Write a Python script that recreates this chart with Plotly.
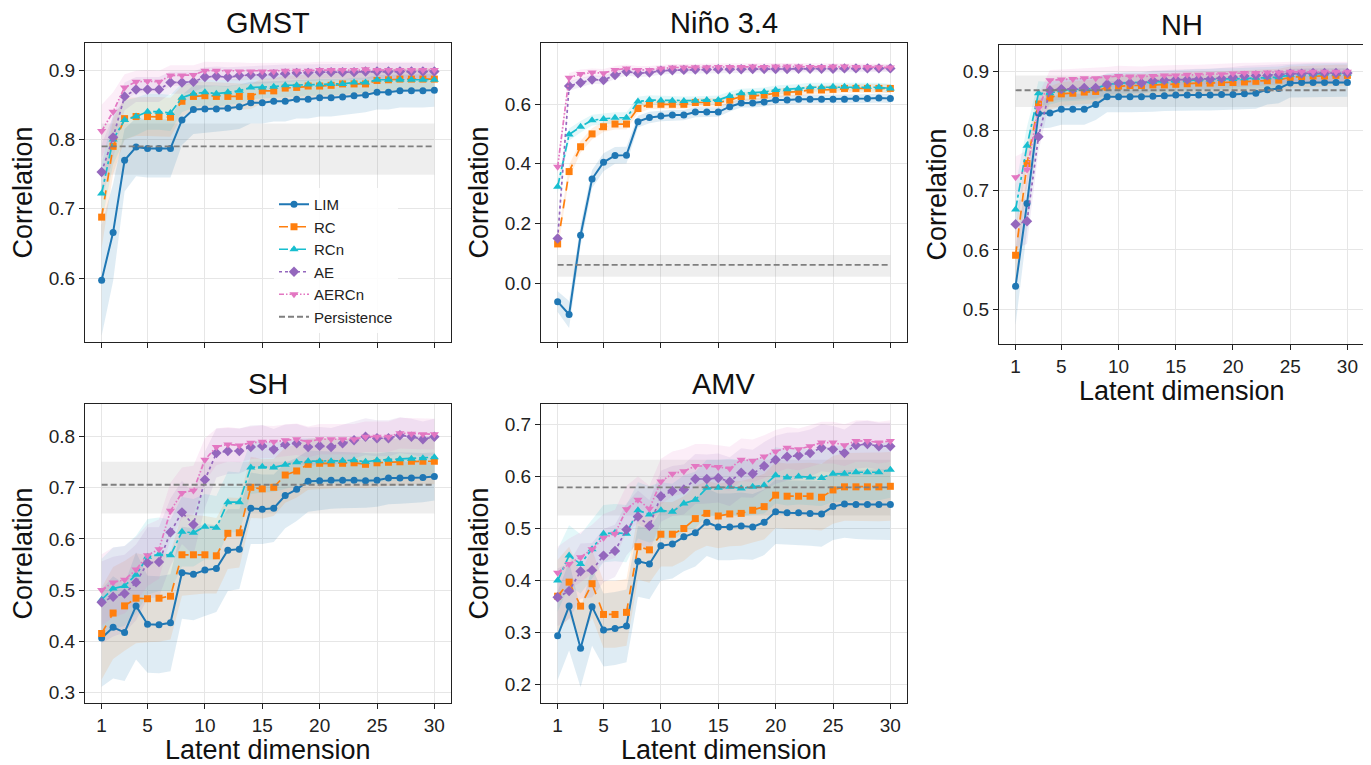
import plotly.graph_objects as go

# the page body keeps an 8px margin, so the figure is shrunk by that amount
W, H = 1371, 765
OFF = 8
FW, FH = W - OFF, H - OFF
dims = list(range(1, 31))
x_ticks = [1, 5, 10, 15, 20, 25, 30]
methods = ["LIM", "RC", "RCn", "AE", "AERCn"]

# ---- GMST ----
gmst_lim = [0.597, 0.666, 0.770, 0.789, 0.787, 0.787, 0.787, 0.828, 0.843, 0.844, 0.844, 0.845, 0.847, 0.853, 0.853,
            0.855, 0.855, 0.858, 0.858, 0.860, 0.860, 0.861, 0.863, 0.864, 0.868, 0.868, 0.870, 0.870, 0.870, 0.871]
gmst_rc = [0.688, 0.790, 0.830, 0.833, 0.833, 0.833, 0.832, 0.855, 0.862, 0.863, 0.862, 0.862, 0.862, 0.862, 0.870,
           0.870, 0.874, 0.875, 0.877, 0.877, 0.878, 0.880, 0.880, 0.880, 0.885, 0.886, 0.887, 0.887, 0.887, 0.887]
gmst_rcn = [0.722, 0.800, 0.828, 0.833, 0.840, 0.840, 0.838, 0.860, 0.866, 0.868, 0.866, 0.868, 0.870, 0.875, 0.875,
            0.876, 0.878, 0.878, 0.879, 0.879, 0.880, 0.880, 0.882, 0.882, 0.886, 0.886, 0.886, 0.886, 0.886, 0.886]
gmst_ae = [0.753, 0.803, 0.862, 0.872, 0.872, 0.872, 0.882, 0.882, 0.883, 0.890, 0.891, 0.890, 0.892, 0.893, 0.893,
           0.894, 0.895, 0.896, 0.896, 0.897, 0.897, 0.897, 0.897, 0.898, 0.898, 0.898, 0.898, 0.898, 0.898, 0.898]
gmst_aercn = [0.812, 0.840, 0.875, 0.883, 0.884, 0.883, 0.892, 0.892, 0.893, 0.899, 0.899, 0.898, 0.898, 0.898, 0.898,
              0.898, 0.899, 0.899, 0.899, 0.900, 0.900, 0.900, 0.900, 0.901, 0.900, 0.900, 0.900, 0.900, 0.900, 0.900]
gmst_lim_err = [0.080, 0.070, 0.045, 0.042, 0.042, 0.042, 0.042, 0.036, 0.035, 0.034, 0.033, 0.032, 0.032, 0.030, 0.030,
                0.029, 0.029, 0.028, 0.028, 0.027, 0.027, 0.026, 0.026, 0.025, 0.025, 0.025, 0.024, 0.024, 0.024, 0.024]
gmst_rc_err = [0.045, 0.040, 0.030, 0.028, 0.028, 0.028, 0.028, 0.022, 0.021, 0.020, 0.020, 0.019, 0.019, 0.018, 0.018,
               0.018, 0.018, 0.017, 0.017, 0.017, 0.017, 0.017, 0.016, 0.016, 0.016, 0.016, 0.016, 0.016, 0.016, 0.016]
gmst_rcn_err = [0.042, 0.036, 0.028, 0.027, 0.026, 0.026, 0.026, 0.021, 0.020, 0.019, 0.019, 0.018, 0.018, 0.017, 0.017,
                0.017, 0.017, 0.016, 0.016, 0.016, 0.016, 0.016, 0.015, 0.015, 0.015, 0.015, 0.015, 0.015, 0.015, 0.015]
gmst_ae_err = [0.040, 0.030, 0.020, 0.018, 0.018, 0.018, 0.016, 0.016, 0.015, 0.014, 0.014, 0.014, 0.013, 0.013, 0.013,
               0.013, 0.013, 0.012, 0.012, 0.012, 0.012, 0.012, 0.012, 0.012, 0.012, 0.012, 0.012, 0.012, 0.012, 0.012]
gmst_aercn_err = [0.038, 0.028, 0.019, 0.016, 0.016, 0.016, 0.015, 0.015, 0.014, 0.013, 0.013, 0.013, 0.013, 0.012, 0.012,
                  0.012, 0.012, 0.012, 0.012, 0.012, 0.012, 0.012, 0.012, 0.012, 0.012, 0.012, 0.012, 0.012, 0.012, 0.012]
gmst_persist = [0.790, 0.749, 0.823]

# ---- Nino 3.4 ----
nino_lim = [-0.061, -0.104, 0.161, 0.349, 0.405, 0.428, 0.429, 0.541, 0.555, 0.560, 0.563, 0.563, 0.573, 0.573, 0.573,
            0.591, 0.603, 0.603, 0.607, 0.613, 0.613, 0.616, 0.616, 0.616, 0.616, 0.616, 0.618, 0.618, 0.620, 0.618]
nino_rc = [0.132, 0.374, 0.457, 0.500, 0.524, 0.533, 0.533, 0.585, 0.599, 0.599, 0.599, 0.599, 0.605, 0.605, 0.605,
           0.613, 0.625, 0.627, 0.630, 0.636, 0.640, 0.641, 0.647, 0.647, 0.649, 0.652, 0.652, 0.652, 0.652, 0.652]
nino_rcn = [0.323, 0.498, 0.524, 0.546, 0.550, 0.554, 0.554, 0.608, 0.613, 0.612, 0.611, 0.610, 0.611, 0.613, 0.613,
            0.627, 0.636, 0.638, 0.640, 0.647, 0.649, 0.652, 0.656, 0.656, 0.658, 0.658, 0.658, 0.658, 0.656, 0.652]
nino_ae = [0.150, 0.660, 0.671, 0.682, 0.680, 0.697, 0.708, 0.703, 0.705, 0.711, 0.713, 0.714, 0.715, 0.715, 0.716,
           0.716, 0.716, 0.717, 0.717, 0.717, 0.717, 0.718, 0.718, 0.718, 0.718, 0.719, 0.719, 0.719, 0.719, 0.719]
nino_aercn = [0.390, 0.688, 0.700, 0.705, 0.703, 0.714, 0.719, 0.714, 0.714, 0.719, 0.722, 0.722, 0.723, 0.723, 0.724,
              0.724, 0.724, 0.725, 0.724, 0.725, 0.725, 0.725, 0.724, 0.724, 0.725, 0.725, 0.724, 0.724, 0.723, 0.722]
nino_lim_err = [0.035, 0.045, 0.035, 0.030, 0.030, 0.028, 0.028, 0.020, 0.019, 0.018, 0.018, 0.017, 0.017, 0.016, 0.016,
                0.016, 0.015, 0.015, 0.015, 0.015, 0.015, 0.015, 0.015, 0.015, 0.015, 0.015, 0.015, 0.015, 0.015, 0.015]
nino_rc_err = [0.022, 0.022, 0.020, 0.019, 0.018, 0.018, 0.018, 0.016, 0.016, 0.015, 0.015, 0.015, 0.015, 0.015, 0.015,
               0.015, 0.015, 0.015, 0.015, 0.015, 0.015, 0.015, 0.015, 0.015, 0.015, 0.015, 0.015, 0.015, 0.015, 0.015]
nino_rcn_err = [0.022, 0.020, 0.019, 0.018, 0.018, 0.018, 0.018, 0.016, 0.016, 0.015, 0.015, 0.015, 0.015, 0.015, 0.015,
                0.015, 0.015, 0.015, 0.015, 0.015, 0.015, 0.015, 0.015, 0.015, 0.015, 0.015, 0.015, 0.015, 0.015, 0.015]
nino_ae_err = [0.025, 0.016, 0.015, 0.014, 0.014, 0.013, 0.013, 0.013, 0.013, 0.012, 0.012, 0.012, 0.012, 0.012, 0.012,
               0.012, 0.012, 0.012, 0.012, 0.012, 0.012, 0.012, 0.012, 0.012, 0.012, 0.012, 0.012, 0.012, 0.012, 0.012]
nino_aercn_err = [0.025, 0.016, 0.015, 0.014, 0.014, 0.013, 0.013, 0.013, 0.013, 0.012, 0.012, 0.012, 0.012, 0.012, 0.012,
                  0.012, 0.012, 0.012, 0.012, 0.012, 0.012, 0.012, 0.012, 0.012, 0.012, 0.012, 0.012, 0.012, 0.012, 0.012]
nino_persist = [0.062, 0.022, 0.095]

# ---- NH ----
nh_lim = [0.539, 0.678, 0.829, 0.830, 0.836, 0.836, 0.836, 0.844, 0.857, 0.857, 0.857, 0.857, 0.858, 0.859, 0.860,
          0.860, 0.860, 0.860, 0.861, 0.861, 0.862, 0.863, 0.869, 0.871, 0.880, 0.881, 0.881, 0.881, 0.881, 0.881]
nh_rc = [0.591, 0.745, 0.845, 0.855, 0.862, 0.863, 0.865, 0.866, 0.873, 0.875, 0.876, 0.876, 0.877, 0.877, 0.878,
         0.879, 0.880, 0.880, 0.881, 0.881, 0.882, 0.883, 0.884, 0.885, 0.890, 0.891, 0.892, 0.892, 0.893, 0.893]
nh_rcn = [0.668, 0.775, 0.863, 0.863, 0.868, 0.869, 0.870, 0.871, 0.878, 0.880, 0.881, 0.881, 0.882, 0.883, 0.884,
          0.885, 0.886, 0.886, 0.887, 0.887, 0.888, 0.889, 0.890, 0.890, 0.894, 0.895, 0.895, 0.896, 0.896, 0.896]
nh_ae = [0.643, 0.648, 0.790, 0.868, 0.870, 0.870, 0.872, 0.872, 0.878, 0.880, 0.880, 0.880, 0.884, 0.885, 0.886,
         0.886, 0.887, 0.887, 0.888, 0.890, 0.892, 0.893, 0.893, 0.894, 0.896, 0.896, 0.897, 0.897, 0.897, 0.897]
nh_aercn = [0.722, 0.735, 0.838, 0.885, 0.886, 0.887, 0.888, 0.888, 0.890, 0.892, 0.891, 0.891, 0.892, 0.893, 0.893,
            0.894, 0.894, 0.895, 0.895, 0.896, 0.897, 0.897, 0.898, 0.898, 0.899, 0.899, 0.899, 0.899, 0.899, 0.899]
nh_lim_err = [0.065, 0.045, 0.025, 0.025, 0.026, 0.026, 0.026, 0.026, 0.026, 0.026, 0.026, 0.026, 0.026, 0.026, 0.026,
              0.026, 0.026, 0.026, 0.026, 0.026, 0.026, 0.026, 0.025, 0.025, 0.024, 0.024, 0.024, 0.024, 0.024, 0.024]
nh_rc_err = [0.045, 0.035, 0.022, 0.020, 0.020, 0.020, 0.020, 0.020, 0.019, 0.019, 0.019, 0.019, 0.019, 0.019, 0.019,
             0.019, 0.019, 0.019, 0.019, 0.019, 0.019, 0.019, 0.019, 0.019, 0.018, 0.018, 0.018, 0.018, 0.018, 0.018]
nh_rcn_err = [0.040, 0.032, 0.020, 0.019, 0.019, 0.019, 0.019, 0.019, 0.018, 0.018, 0.018, 0.018, 0.018, 0.018, 0.018,
              0.018, 0.018, 0.018, 0.018, 0.018, 0.018, 0.018, 0.018, 0.018, 0.017, 0.017, 0.017, 0.017, 0.017, 0.017]
nh_ae_err = [0.040, 0.038, 0.025, 0.018, 0.018, 0.018, 0.018, 0.018, 0.017, 0.017, 0.017, 0.017, 0.017, 0.017, 0.017,
             0.017, 0.017, 0.017, 0.017, 0.017, 0.017, 0.017, 0.017, 0.017, 0.017, 0.017, 0.017, 0.017, 0.017, 0.017]
nh_aercn_err = [0.035, 0.032, 0.022, 0.017, 0.017, 0.017, 0.017, 0.017, 0.017, 0.017, 0.017, 0.017, 0.017, 0.017, 0.017,
                0.017, 0.017, 0.017, 0.017, 0.017, 0.017, 0.017, 0.017, 0.017, 0.017, 0.017, 0.017, 0.017, 0.017, 0.017]
nh_persist = [0.868, 0.840, 0.893]

# ---- SH ----
sh_lim = [0.406, 0.427, 0.417, 0.469, 0.433, 0.432, 0.436, 0.534, 0.531, 0.539, 0.542, 0.578, 0.580, 0.660, 0.658,
          0.660, 0.685, 0.697, 0.713, 0.714, 0.715, 0.715, 0.715, 0.714, 0.715, 0.719, 0.719, 0.719, 0.720, 0.722]
sh_rc = [0.415, 0.455, 0.469, 0.484, 0.483, 0.484, 0.488, 0.569, 0.569, 0.569, 0.567, 0.611, 0.612, 0.701, 0.698,
         0.701, 0.725, 0.733, 0.746, 0.748, 0.748, 0.748, 0.749, 0.746, 0.749, 0.750, 0.751, 0.752, 0.752, 0.752]
sh_rcn = [0.481, 0.503, 0.508, 0.530, 0.565, 0.570, 0.568, 0.614, 0.612, 0.624, 0.622, 0.672, 0.672, 0.740, 0.741,
          0.740, 0.745, 0.750, 0.752, 0.752, 0.752, 0.753, 0.754, 0.751, 0.754, 0.755, 0.756, 0.757, 0.758, 0.760]
sh_ae = [0.476, 0.487, 0.493, 0.515, 0.553, 0.555, 0.613, 0.652, 0.628, 0.716, 0.768, 0.772, 0.772, 0.780, 0.782,
         0.775, 0.785, 0.787, 0.780, 0.782, 0.780, 0.787, 0.793, 0.800, 0.797, 0.797, 0.803, 0.800, 0.795, 0.800]
sh_aercn = [0.500, 0.515, 0.520, 0.540, 0.568, 0.580, 0.655, 0.690, 0.695, 0.755, 0.780, 0.785, 0.783, 0.788, 0.790,
            0.790, 0.793, 0.795, 0.790, 0.795, 0.795, 0.795, 0.795, 0.800, 0.800, 0.800, 0.807, 0.806, 0.805, 0.805]
sh_lim_err = [0.095, 0.100, 0.095, 0.105, 0.095, 0.095, 0.095, 0.090, 0.090, 0.090, 0.085, 0.080, 0.078, 0.070, 0.068,
              0.066, 0.064, 0.062, 0.060, 0.058, 0.056, 0.055, 0.054, 0.053, 0.052, 0.051, 0.050, 0.049, 0.048, 0.047]
sh_rc_err = [0.090, 0.090, 0.088, 0.088, 0.085, 0.085, 0.085, 0.080, 0.078, 0.076, 0.074, 0.070, 0.068, 0.060, 0.058,
             0.056, 0.054, 0.052, 0.050, 0.050, 0.049, 0.048, 0.048, 0.047, 0.047, 0.046, 0.046, 0.045, 0.045, 0.045]
sh_rcn_err = [0.080, 0.080, 0.078, 0.076, 0.074, 0.072, 0.070, 0.068, 0.066, 0.064, 0.062, 0.060, 0.058, 0.052, 0.050,
              0.048, 0.047, 0.046, 0.045, 0.044, 0.044, 0.043, 0.043, 0.042, 0.042, 0.041, 0.041, 0.040, 0.040, 0.040]
sh_ae_err = [0.080, 0.078, 0.076, 0.074, 0.070, 0.068, 0.066, 0.062, 0.060, 0.055, 0.048, 0.045, 0.044, 0.042, 0.041,
             0.040, 0.039, 0.038, 0.038, 0.037, 0.037, 0.036, 0.036, 0.036, 0.035, 0.035, 0.035, 0.035, 0.035, 0.035]
sh_aercn_err = [0.070, 0.068, 0.066, 0.064, 0.060, 0.058, 0.055, 0.050, 0.048, 0.042, 0.036, 0.034, 0.033, 0.032, 0.032,
                0.031, 0.031, 0.031, 0.030, 0.030, 0.030, 0.030, 0.030, 0.030, 0.030, 0.030, 0.030, 0.030, 0.030, 0.030]
sh_persist = [0.706, 0.650, 0.751]

# ---- AMV ----
amv_lim = [0.294, 0.351, 0.270, 0.350, 0.305, 0.308, 0.313, 0.437, 0.432, 0.467, 0.470, 0.484, 0.492, 0.512, 0.503,
           0.503, 0.505, 0.503, 0.512, 0.532, 0.530, 0.530, 0.529, 0.528, 0.542, 0.547, 0.546, 0.546, 0.546, 0.546]
amv_rc = [0.370, 0.397, 0.351, 0.394, 0.335, 0.335, 0.339, 0.465, 0.459, 0.489, 0.489, 0.500, 0.519, 0.529, 0.524,
          0.528, 0.529, 0.535, 0.542, 0.564, 0.562, 0.562, 0.562, 0.560, 0.574, 0.580, 0.580, 0.580, 0.580, 0.581]
amv_rcn = [0.400, 0.448, 0.432, 0.460, 0.490, 0.492, 0.490, 0.535, 0.527, 0.535, 0.532, 0.548, 0.555, 0.578, 0.578,
           0.580, 0.577, 0.580, 0.583, 0.602, 0.598, 0.600, 0.598, 0.597, 0.605, 0.605, 0.608, 0.608, 0.608, 0.613]
amv_ae = [0.368, 0.380, 0.418, 0.420, 0.448, 0.457, 0.498, 0.523, 0.505, 0.562, 0.572, 0.575, 0.595, 0.595, 0.597,
          0.590, 0.607, 0.605, 0.620, 0.632, 0.638, 0.640, 0.645, 0.655, 0.652, 0.645, 0.660, 0.662, 0.658, 0.658]
amv_aercn = [0.415, 0.432, 0.445, 0.460, 0.482, 0.490, 0.537, 0.555, 0.538, 0.590, 0.605, 0.610, 0.620, 0.620, 0.618,
             0.615, 0.632, 0.630, 0.638, 0.648, 0.655, 0.652, 0.658, 0.665, 0.665, 0.660, 0.668, 0.668, 0.665, 0.668]
amv_lim_err = [0.085, 0.085, 0.075, 0.075, 0.070, 0.070, 0.070, 0.068, 0.068, 0.067, 0.066, 0.066, 0.065, 0.065, 0.064,
               0.064, 0.064, 0.063, 0.063, 0.062, 0.062, 0.062, 0.062, 0.063, 0.064, 0.065, 0.066, 0.067, 0.068, 0.068]
amv_rc_err = [0.070, 0.068, 0.066, 0.065, 0.064, 0.064, 0.064, 0.063, 0.063, 0.062, 0.062, 0.062, 0.062, 0.062, 0.062,
              0.062, 0.062, 0.062, 0.063, 0.063, 0.063, 0.064, 0.064, 0.064, 0.065, 0.065, 0.065, 0.066, 0.066, 0.066]
amv_rcn_err = [0.060, 0.058, 0.057, 0.056, 0.055, 0.055, 0.055, 0.054, 0.054, 0.054, 0.054, 0.054, 0.054, 0.054, 0.054,
               0.054, 0.054, 0.054, 0.054, 0.054, 0.054, 0.054, 0.054, 0.054, 0.054, 0.054, 0.054, 0.054, 0.054, 0.054]
amv_ae_err = [0.055, 0.054, 0.053, 0.052, 0.051, 0.050, 0.050, 0.050, 0.049, 0.049, 0.048, 0.048, 0.048, 0.047, 0.047,
              0.047, 0.047, 0.046, 0.046, 0.046, 0.046, 0.045, 0.045, 0.045, 0.045, 0.045, 0.045, 0.045, 0.045, 0.045]
amv_aercn_err = [0.050, 0.049, 0.048, 0.047, 0.046, 0.046, 0.045, 0.045, 0.044, 0.044, 0.043, 0.043, 0.042, 0.042, 0.042,
                 0.042, 0.041, 0.041, 0.041, 0.041, 0.040, 0.040, 0.040, 0.040, 0.040, 0.040, 0.040, 0.040, 0.040, 0.040]
amv_persist = [0.579, 0.525, 0.632]

# panel: title, series, errors, persistence, y range, y ticks, box (left, right, top, bottom in page px), x labels
panels = [
    ("GMST", [gmst_lim, gmst_rc, gmst_rcn, gmst_ae, gmst_aercn],
     [gmst_lim_err, gmst_rc_err, gmst_rcn_err, gmst_ae_err, gmst_aercn_err], gmst_persist,
     [0.508, 0.939], [0.6, 0.7, 0.8, 0.9], (85, 451, 43, 342), False),
    ("Niño 3.4", [nino_lim, nino_rc, nino_rcn, nino_ae, nino_aercn],
     [nino_lim_err, nino_rc_err, nino_rcn_err, nino_ae_err, nino_aercn_err], nino_persist,
     [-0.196, 0.804], [0.0, 0.2, 0.4, 0.6], (541, 907, 43, 342), False),
    ("NH", [nh_lim, nh_rc, nh_rcn, nh_ae, nh_aercn],
     [nh_lim_err, nh_rc_err, nh_rcn_err, nh_ae_err, nh_aercn_err], nh_persist,
     [0.442, 0.944], [0.5, 0.6, 0.7, 0.8, 0.9], (999, 1364, 45, 344), True),
    ("SH", [sh_lim, sh_rc, sh_rcn, sh_ae, sh_aercn],
     [sh_lim_err, sh_rc_err, sh_rcn_err, sh_ae_err, sh_aercn_err], sh_persist,
     [0.279, 0.864], [0.3, 0.4, 0.5, 0.6, 0.7, 0.8], (85, 451, 404, 703), True),
    ("AMV", [amv_lim, amv_rc, amv_rcn, amv_ae, amv_aercn],
     [amv_lim_err, amv_rc_err, amv_rcn_err, amv_ae_err, amv_aercn_err], amv_persist,
     [0.165, 0.739], [0.2, 0.3, 0.4, 0.5, 0.6, 0.7], (541, 907, 404, 703), True),
]

line_rgb = [(31, 119, 180), (255, 127, 14), (23, 190, 207), (148, 103, 189), (227, 119, 194)]
dashes = ["solid", "dash", "dashdot", "dot", "5px,2px,1.5px,2px,1.5px,2px"]
symbols = ["circle", "square", "triangle-up", "diamond", "triangle-down"]
msizes = [7, 7, 8, 8, 8]
band_alpha = [0.14, 0.12, 0.12, 0.12, 0.12]
FONT = "Liberation Sans, Arial, sans-serif"


def px(x):
    return (x - OFF) / FW


def py(y):
    return 1 - (y - OFF) / FH


fig = go.Figure()
layout = {}
annotations = []

for i, (title, series, errs, persist, yr, yt, box, xlabels) in enumerate(panels):
    n = "" if i == 0 else str(i + 1)
    xa, ya = "x" + n, "y" + n
    left, right, top, bottom = box

    # persistence band
    fig.add_trace(go.Scatter(x=[dims[0], dims[-1], dims[-1], dims[0]],
                             y=[persist[2], persist[2], persist[1], persist[1]],
                             fill="toself", fillcolor="rgba(127,127,127,0.13)",
                             line=dict(width=0), mode="lines", showlegend=False,
                             hoverinfo="skip", xaxis=xa, yaxis=ya))
    # uncertainty bands
    for k in range(5):
        r, g, b = line_rgb[k]
        hi = [v + e for v, e in zip(series[k], errs[k])]
        lo = [v - e for v, e in zip(series[k], errs[k])]
        fig.add_trace(go.Scatter(x=dims + dims[::-1], y=hi + lo[::-1],
                                 fill="toself", fillcolor=f"rgba({r},{g},{b},{band_alpha[k]})",
                                 line=dict(width=0), mode="lines", showlegend=False,
                                 hoverinfo="skip", xaxis=xa, yaxis=ya))
    # series lines
    for k in range(5):
        r, g, b = line_rgb[k]
        fig.add_trace(go.Scatter(x=dims, y=series[k], mode="lines+markers", name=methods[k],
                                 line=dict(color=f"rgb({r},{g},{b})", width=2 if k == 0 else 1.7, dash=dashes[k]),
                                 marker=dict(symbol=symbols[k], size=msizes[k], color=f"rgb({r},{g},{b})"),
                                 showlegend=(i == 0), legendrank=k + 1, xaxis=xa, yaxis=ya))
    # persistence line
    fig.add_trace(go.Scatter(x=[dims[0], dims[-1]], y=[persist[0], persist[0]], mode="lines",
                             name="Persistence", line=dict(color="rgb(127,127,127)", width=1.8, dash="6px,3px"),
                             showlegend=(i == 0), legendrank=6, xaxis=xa, yaxis=ya))

    axis_common = dict(showline=True, mirror=True, linecolor="#222222", linewidth=1.2,
                       ticks="outside", ticklen=5, tickcolor="#222222",
                       showgrid=True, gridcolor="#e6e6e6", gridwidth=1, zeroline=False,
                       tickfont=dict(family=FONT, size=19, color="#222222"))
    layout["xaxis" + n] = dict(axis_common, domain=[px(left), px(right)], range=[-0.45, 31.45],
                               tickvals=x_ticks, showticklabels=xlabels, anchor=ya)
    layout["yaxis" + n] = dict(axis_common, domain=[py(bottom), py(top)], range=yr,
                               tickvals=yt, tickformat=".1f", anchor=xa)

    cx = (left + right) / 2
    annotations.append(dict(text=title, x=px(cx), y=py(top - 20), xref="paper", yref="paper",
                            showarrow=False, xanchor="center", yanchor="middle",
                            font=dict(family=FONT, size=29, color="#111111")))
    annotations.append(dict(text="Correlation", x=px(left - 63), y=py((top + bottom) / 2),
                            xref="paper", yref="paper", showarrow=False, textangle=-90,
                            xanchor="center", yanchor="middle",
                            font=dict(family=FONT, size=27, color="#111111")))
    if xlabels:
        annotations.append(dict(text="Latent dimension", x=px(cx), y=py(bottom + 47),
                                xref="paper", yref="paper", showarrow=False,
                                xanchor="center", yanchor="middle",
                                font=dict(family=FONT, size=27, color="#111111")))

fig.update_layout(
    width=FW, height=FH, margin=dict(l=0, r=0, t=0, b=0),
    paper_bgcolor="white", plot_bgcolor="white",
    annotations=annotations,
    legend=dict(x=px(274), y=py(188), xanchor="left", yanchor="top",
                bgcolor="rgba(255,255,255,0.85)", font=dict(family=FONT, size=15, color="#222222"),
                itemwidth=30, tracegroupgap=0),
    **layout,
)

fig.write_html("out.html")
